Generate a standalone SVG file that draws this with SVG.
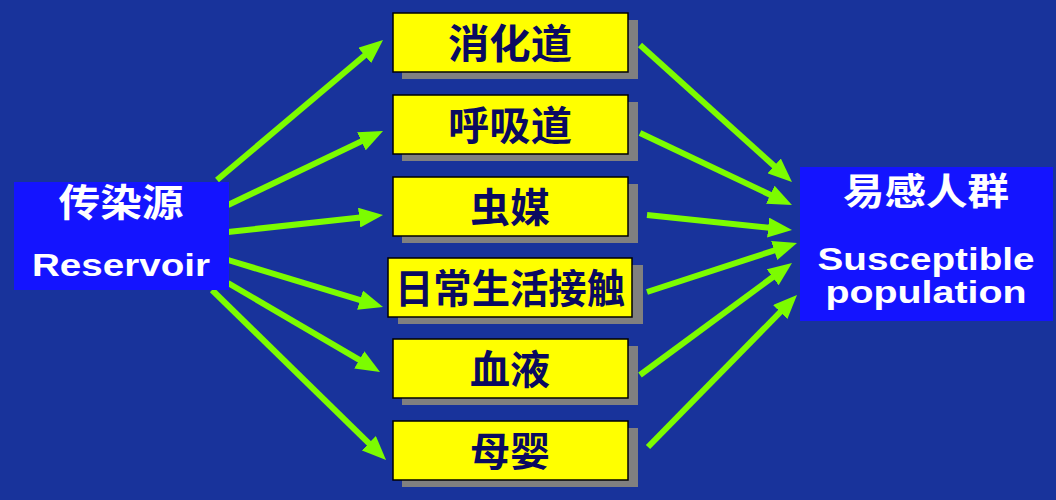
<svg xmlns="http://www.w3.org/2000/svg" width="1056" height="500" viewBox="0 0 1056 500">
<style>
.bg{fill:#18339b}
.blue{fill:#1414ff}
.shadow{fill:#808080}
.ybox{fill:#ffff00;stroke:#000000;stroke-width:1.5}
.cjk{font-family:"Noto Sans CJK SC","Noto Sans",sans-serif;font-weight:bold;text-anchor:middle}
.lat{font-family:"Liberation Sans",Arial,sans-serif;font-weight:bold;text-anchor:middle;fill:#ffffff;font-size:32px}
.wt{fill:#ffffff}
.yt{fill:#0a0a60;font-size:40px}
.arr{stroke:#7cfc00;stroke-width:6;fill:none;marker-end:url(#ah)}
</style>
<defs>
<marker id="ah" markerUnits="userSpaceOnUse" markerWidth="24" markerHeight="20" viewBox="0 0 24 20" refX="8" refY="10" orient="auto">
<path d="M0,0 L24,10 L0,20 z" fill="#7cfc00"/>
</marker>
</defs>
<rect class="bg" x="0" y="0" width="1056" height="500"/>

<g id="connectors">
<line class="arr" x1="217" y1="180" x2="370.8" y2="50.3"/>
<line class="arr" x1="228" y1="205" x2="368.6" y2="137.9"/>
<line class="arr" x1="228" y1="232" x2="367.1" y2="216.7"/>
<line class="arr" x1="228" y1="260" x2="367.7" y2="302.4"/>
<line class="arr" x1="228" y1="283" x2="366.2" y2="363.8"/>
<line class="arr" x1="212" y1="290" x2="374.6" y2="448.8"/>
<line class="arr" x1="640" y1="45" x2="780.1" y2="171.3"/>
<line class="arr" x1="640" y1="133" x2="777.5" y2="198.2"/>
<line class="arr" x1="647" y1="215" x2="776.1" y2="228.4"/>
<line class="arr" x1="647" y1="292" x2="781.8" y2="248"/>
<line class="arr" x1="640" y1="375" x2="779.1" y2="272.5"/>
<line class="arr" x1="648" y1="447" x2="785.8" y2="306.4"/>
</g>

<g id="reservoir">
<rect class="blue" x="14" y="182" width="215" height="108"/>
<text class="cjk wt" x="121" y="216" font-size="38" textLength="125" lengthAdjust="spacingAndGlyphs">传染源</text>
<text class="lat" x="121" y="276" textLength="178" lengthAdjust="spacingAndGlyphs">Reservoir</text>
</g>

<g id="digestive">
<rect class="shadow" x="402" y="20" width="236" height="59"/>
<rect class="ybox" x="393" y="13" width="235" height="59"/>
<text class="cjk yt" x="510" y="58" textLength="124" lengthAdjust="spacingAndGlyphs">消化道</text>
</g>

<g id="respiratory">
<rect class="shadow" x="402" y="102" width="236" height="59"/>
<rect class="ybox" x="393" y="95" width="235" height="59"/>
<text class="cjk yt" x="510" y="140" textLength="124" lengthAdjust="spacingAndGlyphs">呼吸道</text>
</g>

<g id="vector">
<rect class="shadow" x="402" y="184" width="236" height="59"/>
<rect class="ybox" x="393" y="177" width="235" height="59"/>
<text class="cjk yt" x="510" y="222">虫媒</text>
</g>

<g id="daily-contact">
<rect class="shadow" x="398" y="265" width="245" height="59"/>
<rect class="ybox" x="388" y="258" width="244" height="59"/>
<text class="cjk yt" x="510" y="303" textLength="230" lengthAdjust="spacingAndGlyphs">日常生活接触</text>
</g>

<g id="blood">
<rect class="shadow" x="402" y="346" width="236" height="59"/>
<rect class="ybox" x="393" y="339" width="235" height="59"/>
<text class="cjk yt" x="510" y="384">血液</text>
</g>

<g id="mother-infant">
<rect class="shadow" x="402" y="428" width="236" height="59"/>
<rect class="ybox" x="393" y="421" width="235" height="59"/>
<text class="cjk yt" x="510" y="466">母婴</text>
</g>

<g id="susceptible">
<rect class="blue" x="800" y="167" width="253" height="154"/>
<text class="cjk wt" x="926" y="205" font-size="37" textLength="166" lengthAdjust="spacingAndGlyphs">易感人群</text>
<text class="lat" x="926" y="270" textLength="217" lengthAdjust="spacingAndGlyphs">Susceptible</text>
<text class="lat" x="926" y="303" textLength="201" lengthAdjust="spacingAndGlyphs">population</text>
</g>
</svg>
